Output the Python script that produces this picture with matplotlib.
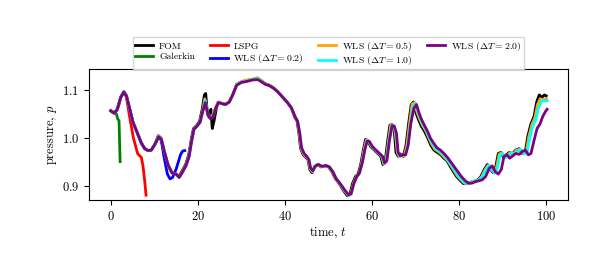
import matplotlib
matplotlib.use("Agg")
import matplotlib.pyplot as plt

plt.rcParams["font.family"] = ["cmr10", "DejaVu Serif"]
plt.rcParams["mathtext.fontset"] = "cm"
plt.rcParams["axes.formatter.use_mathtext"] = True

# FOM reference solution
t_fom = [0, 0.8, 1.5, 2.3, 3.0, 3.6, 4.3, 5.1, 6.0, 7.0, 7.8, 8.6, 9.3, 10.2, 10.9, 11.5,
         12.2, 13.1, 14.0, 15.0, 15.6, 16.3, 17.2, 17.9, 18.5, 19.0, 19.7, 20.4, 21.0, 21.5,
         21.8, 22.2, 22.6, 23.0, 23.3, 23.7, 24.3, 24.8, 25.5, 26.3, 27.2, 28.0, 28.9, 30.0,
         31.2, 32.5, 33.7, 34.5, 35.5, 36.5, 37.5, 38.5, 39.5, 40.5, 41.5, 42.2, 42.8, 43.2,
         43.6, 44.2, 44.8, 45.3, 45.7, 46.2, 46.8, 47.5, 48.3, 49.2, 50.0, 50.8, 51.6, 52.5,
         53.5, 54.3, 54.9, 55.5, 56.2, 56.8, 57.4, 58.0, 58.5, 59.0, 59.7, 60.5, 61.3, 62.0,
         62.5, 63.0, 63.6, 64.1, 64.6, 65.1, 65.5, 66.0, 66.5, 67.2, 67.8, 68.4, 69.0, 69.5,
         70.0, 70.6, 71.3, 72.0, 72.8, 73.5, 74.2, 75.0, 75.8, 76.5, 77.2, 78.0, 78.7, 79.4,
         80.2, 81.0, 81.8, 82.6, 83.4, 84.2, 85.0, 85.8, 86.5, 87.2, 87.8, 88.4, 89.0, 89.6,
         90.2, 90.8, 91.5, 92.3, 93.0, 93.8, 94.5, 95.2, 95.8, 96.5, 97.2, 97.8, 98.4, 99.0,
         99.6, 100.0]
p_fom = [1.057, 1.052, 1.060, 1.085, 1.097, 1.088, 1.062, 1.033, 1.013, 0.990, 0.978, 0.974,
         0.975, 0.988, 1.005, 1.000, 0.975, 0.945, 0.928, 0.925, 0.920, 0.930, 0.945, 0.965,
         0.998, 1.020, 1.026, 1.035, 1.060, 1.090, 1.093, 1.050, 1.043, 1.060, 1.020, 1.035,
         1.065, 1.075, 1.072, 1.070, 1.075, 1.090, 1.112, 1.117, 1.120, 1.122, 1.125, 1.120,
         1.113, 1.110, 1.104, 1.095, 1.085, 1.075, 1.062, 1.045, 1.035, 1.010, 0.978, 0.965,
         0.960, 0.955, 0.935, 0.928, 0.940, 0.945, 0.940, 0.942, 0.940, 0.930, 0.915, 0.905,
         0.890, 0.880, 0.882, 0.905, 0.920, 0.925, 0.945, 0.975, 0.997, 0.995, 0.982, 0.975,
         0.968, 0.962, 0.945, 0.950, 0.995, 1.027, 1.028, 1.015, 0.970, 0.962, 0.967, 0.962,
         0.985, 1.030, 1.070, 1.075, 1.055, 1.040, 1.025, 1.015, 1.000, 0.985, 0.975, 0.970,
         0.965, 0.958, 0.953, 0.940, 0.930, 0.920, 0.912, 0.905, 0.905, 0.908, 0.910, 0.912,
         0.920, 0.935, 0.945, 0.935, 0.928, 0.940, 0.968, 0.970, 0.960, 0.965, 0.970, 0.968,
         0.975, 0.978, 0.968, 0.972, 1.005, 1.030, 1.045, 1.075, 1.090, 1.085, 1.090, 1.088]

# Galerkin ROM
t_gal = [0, 0.5, 1.0, 1.3, 1.6, 1.9, 2.0, 2.15]
p_gal = [1.057, 1.053, 1.054, 1.050, 1.040, 1.036, 1.000, 0.951]

# LSPG ROM
t_lspg = [0, 0.8, 1.5, 2.3, 3.0, 3.6, 4.3, 5.2, 6.2, 7.0, 7.4, 7.8, 8.1]
p_lspg = [1.057, 1.052, 1.060, 1.085, 1.097, 1.085, 1.046, 1.000, 0.967, 0.960, 0.942,
          0.910, 0.881]

# WLS, dT = 0.2
t_w02 = [0, 0.8, 1.5, 2.3, 3.0, 3.6, 4.3, 5.1, 6.0, 7.0, 7.8, 8.6, 9.3, 10.2, 11.0, 11.6,
         12.2, 13.0, 13.6, 14.2, 15.0, 16.0, 16.5, 17.0]
p_w02 = [1.057, 1.052, 1.060, 1.085, 1.096, 1.088, 1.062, 1.033, 1.013, 0.990, 0.978, 0.974,
         0.975, 0.988, 1.003, 0.995, 0.962, 0.925, 0.915, 0.918, 0.935, 0.965, 0.973, 0.974]

# WLS, dT = 0.5
t_w05 = [0, 0.8, 1.5, 2.3, 3.0, 3.6, 4.3, 5.1, 6.0, 7.0, 7.8, 8.6, 9.3, 10.2, 11.0, 11.6,
         12.3, 13.2, 14.1, 15.0, 15.7, 16.4, 17.3, 18.0, 18.6, 19.1, 19.8, 20.5, 21.1, 21.6,
         22.2, 22.8, 23.4, 24.0, 24.6, 25.5, 26.3, 27.2, 28.0, 28.9, 30.0, 31.2, 32.5, 33.7,
         34.5, 35.5, 36.5, 37.5, 38.5, 39.5, 40.5, 41.5, 42.3, 42.9, 43.3, 43.7, 44.3, 44.9,
         45.4, 45.8, 46.3, 46.9, 47.6, 48.4, 49.3, 50.1, 50.9, 51.7, 52.6, 53.6, 54.5, 55.1,
         55.7, 56.4, 57.0, 57.6, 58.2, 58.7, 59.2, 59.9, 60.7, 61.5, 62.2, 62.7, 63.2, 63.8,
         64.3, 64.8, 65.3, 65.8, 66.2, 66.8, 67.4, 68.0, 68.6, 69.2, 69.8, 70.3, 70.9, 71.6,
         72.3, 73.0, 73.7, 74.4, 75.2, 76.0, 76.7, 77.4, 78.2, 78.9, 79.6, 80.4, 81.2, 82.0,
         82.8, 83.6, 84.4, 85.2, 86.0, 86.7, 87.4, 88.0, 88.6, 89.2, 89.8, 90.4, 91.1, 91.8,
         92.5, 93.2, 94.0, 94.7, 95.4, 96.0, 96.7, 97.4, 98.0, 98.6, 99.2, 99.8, 100.1]
p_w05 = [1.057, 1.052, 1.060, 1.085, 1.097, 1.088, 1.062, 1.033, 1.013, 0.990, 0.978, 0.974,
         0.975, 0.988, 1.005, 1.000, 0.973, 0.944, 0.927, 0.925, 0.919, 0.929, 0.944, 0.964,
         0.997, 1.019, 1.026, 1.034, 1.057, 1.082, 1.052, 1.042, 1.048, 1.063, 1.075, 1.073,
         1.071, 1.076, 1.091, 1.112, 1.118, 1.121, 1.123, 1.126, 1.121, 1.114, 1.110, 1.104,
         1.095, 1.085, 1.075, 1.062, 1.045, 1.035, 1.010, 0.978, 0.966, 0.961, 0.955, 0.936,
         0.930, 0.941, 0.945, 0.940, 0.942, 0.940, 0.930, 0.915, 0.905, 0.891, 0.881, 0.883,
         0.905, 0.920, 0.926, 0.947, 0.977, 0.996, 0.994, 0.982, 0.975, 0.968, 0.962, 0.946,
         0.951, 0.995, 1.027, 1.027, 1.013, 0.970, 0.962, 0.966, 0.963, 0.985, 1.030, 1.071,
         1.074, 1.055, 1.040, 1.026, 1.016, 1.001, 0.987, 0.977, 0.972, 0.966, 0.959, 0.953,
         0.941, 0.931, 0.921, 0.913, 0.906, 0.905, 0.908, 0.910, 0.912, 0.920, 0.935, 0.944,
         0.935, 0.928, 0.940, 0.967, 0.969, 0.960, 0.965, 0.970, 0.968, 0.975, 0.977, 0.968,
         0.972, 1.003, 1.028, 1.043, 1.070, 1.082, 1.080, 1.082, 1.081]

# WLS, dT = 1.0
t_w10 = [0, 0.8, 1.5, 2.3, 3.0, 3.6, 4.3, 5.1, 6.0, 7.0, 7.8, 8.6, 9.3, 10.2, 11.0, 11.6,
         12.3, 13.2, 14.1, 15.0, 15.7, 16.4, 17.3, 18.0, 18.6, 19.1, 19.8, 20.5, 21.1, 21.7,
         22.3, 22.9, 23.5, 24.1, 24.7, 25.5, 26.3, 27.2, 28.0, 28.9, 30.0, 31.2, 32.5, 33.7,
         34.5, 35.5, 36.5, 37.5, 38.5, 39.5, 40.5, 41.5, 42.3, 42.9, 43.4, 43.8, 44.4, 45.0,
         45.5, 45.9, 46.4, 47.0, 47.7, 48.5, 49.4, 50.2, 51.0, 51.8, 52.7, 53.7, 54.6, 55.2,
         55.8, 56.5, 57.1, 57.7, 58.3, 58.8, 59.3, 60.0, 60.8, 61.6, 62.3, 62.8, 63.3, 63.9,
         64.5, 65.0, 65.5, 65.9, 66.4, 66.9, 67.6, 68.2, 68.8, 69.4, 70.0, 70.5, 71.1, 71.8,
         72.5, 73.2, 73.9, 74.6, 75.4, 76.2, 76.9, 77.6, 78.4, 79.1, 79.8, 80.6, 81.4, 82.2,
         83.0, 83.8, 84.6, 85.4, 86.2, 86.9, 87.6, 88.2, 88.8, 89.4, 90.0, 90.6, 91.3, 92.0,
         92.7, 93.4, 94.2, 94.9, 95.6, 96.2, 96.9, 97.6, 98.2, 98.8, 99.4, 100.0, 100.2]
p_w10 = [1.057, 1.052, 1.060, 1.085, 1.097, 1.088, 1.062, 1.033, 1.013, 0.990, 0.978, 0.974,
         0.975, 0.988, 1.004, 0.999, 0.972, 0.943, 0.927, 0.925, 0.918, 0.928, 0.943, 0.963,
         0.996, 1.018, 1.025, 1.033, 1.056, 1.078, 1.051, 1.041, 1.046, 1.062, 1.074, 1.072,
         1.070, 1.075, 1.090, 1.111, 1.117, 1.119, 1.122, 1.124, 1.119, 1.113, 1.109, 1.103,
         1.095, 1.085, 1.075, 1.063, 1.045, 1.035, 1.010, 0.979, 0.967, 0.961, 0.955, 0.936,
         0.931, 0.941, 0.945, 0.941, 0.943, 0.940, 0.930, 0.915, 0.905, 0.891, 0.881, 0.883,
         0.905, 0.920, 0.926, 0.948, 0.977, 0.995, 0.993, 0.982, 0.975, 0.968, 0.962, 0.947,
         0.952, 0.995, 1.027, 1.026, 1.011, 0.970, 0.962, 0.966, 0.964, 0.985, 1.030, 1.066,
         1.072, 1.055, 1.040, 1.026, 1.015, 1.000, 0.988, 0.978, 0.973, 0.967, 0.960, 0.951,
         0.941, 0.931, 0.921, 0.913, 0.906, 0.906, 0.909, 0.911, 0.913, 0.920, 0.936, 0.943,
         0.933, 0.927, 0.938, 0.965, 0.968, 0.959, 0.964, 0.969, 0.967, 0.973, 0.976, 0.967,
         0.970, 1.000, 1.025, 1.038, 1.062, 1.076, 1.078, 1.077, 1.078]

# WLS, dT = 2.0
t_w20 = [0, 0.8, 1.5, 2.3, 3.0, 3.6, 4.3, 5.1, 6.0, 7.0, 7.8, 8.6, 9.3, 10.2, 11.0, 11.6,
         12.3, 13.2, 14.1, 15.0, 15.7, 16.4, 17.3, 18.0, 18.6, 19.1, 19.8, 20.5, 21.1, 21.7,
         22.3, 22.9, 23.5, 24.1, 24.7, 25.5, 26.3, 27.2, 28.0, 28.9, 30.0, 31.2, 32.5, 33.7,
         34.5, 35.5, 36.5, 37.5, 38.5, 39.5, 40.5, 41.5, 42.3, 42.9, 43.4, 43.8, 44.4, 45.0,
         45.5, 45.9, 46.4, 47.0, 47.7, 48.5, 49.4, 50.2, 51.0, 51.8, 52.7, 53.7, 54.6, 55.2,
         55.8, 56.5, 57.1, 57.8, 58.4, 58.9, 59.4, 60.1, 60.9, 61.7, 62.4, 62.9, 63.4, 64.0,
         64.6, 65.1, 65.6, 66.0, 66.5, 67.0, 67.7, 68.3, 68.9, 69.6, 70.2, 70.7, 71.3, 72.0,
         72.7, 73.4, 74.1, 74.9, 75.7, 76.5, 77.3, 78.1, 78.9, 79.7, 80.5, 81.3, 82.1, 82.9,
         83.7, 84.5, 85.3, 86.1, 86.9, 87.6, 88.3, 89.0, 89.7, 90.3, 91.0, 91.6, 92.3, 93.0,
         93.8, 94.5, 95.2, 95.9, 96.5, 97.2, 97.9, 98.6, 99.2, 99.8, 100.2]
p_w20 = [1.057, 1.052, 1.060, 1.085, 1.096, 1.088, 1.062, 1.033, 1.013, 0.990, 0.978, 0.974,
         0.975, 0.988, 1.003, 0.998, 0.972, 0.943, 0.927, 0.925, 0.918, 0.928, 0.943, 0.962,
         0.995, 1.018, 1.025, 1.033, 1.055, 1.074, 1.050, 1.040, 1.045, 1.062, 1.074, 1.072,
         1.070, 1.075, 1.090, 1.110, 1.116, 1.118, 1.121, 1.122, 1.118, 1.112, 1.109, 1.103,
         1.095, 1.085, 1.075, 1.063, 1.045, 1.035, 1.010, 0.980, 0.968, 0.962, 0.955, 0.937,
         0.932, 0.942, 0.945, 0.941, 0.943, 0.940, 0.930, 0.915, 0.905, 0.892, 0.882, 0.884,
         0.905, 0.920, 0.927, 0.950, 0.978, 0.994, 0.993, 0.982, 0.975, 0.968, 0.962, 0.948,
         0.953, 0.995, 1.026, 1.025, 1.010, 0.970, 0.963, 0.966, 0.965, 0.985, 1.030, 1.062,
         1.070, 1.055, 1.040, 1.027, 1.015, 1.000, 0.990, 0.980, 0.975, 0.968, 0.960, 0.950,
         0.940, 0.930, 0.920, 0.912, 0.906, 0.906, 0.909, 0.911, 0.913, 0.920, 0.937, 0.942,
         0.930, 0.925, 0.935, 0.962, 0.965, 0.958, 0.963, 0.968, 0.966, 0.972, 0.975, 0.965,
         0.968, 0.995, 1.020, 1.030, 1.045, 1.055, 1.060]

series = [
    (t_fom, p_fom, "black", "FOM"),
    (t_gal, p_gal, "green", "Galerkin"),
    (t_lspg, p_lspg, "red", "LSPG"),
    (t_w02, p_w02, "blue", r"WLS ($\Delta T = 0.2$)"),
    (t_w05, p_w05, "orange", r"WLS ($\Delta T = 0.5$)"),
    (t_w10, p_w10, "cyan", r"WLS ($\Delta T = 1.0$)"),
    (t_w20, p_w20, "purple", r"WLS ($\Delta T = 2.0$)"),
]

fig = plt.figure(figsize=(5.98, 2.66), dpi=100)
ax = fig.add_axes([89 / 598, 1 - 200 / 266, 479 / 598, 131 / 266])

for t, p, c, lab in series:
    ax.plot(t, p, color=c, lw=2, label=lab)

ax.set_xlim(-5, 105)
ax.set_ylim(0.871, 1.144)
ax.set_xticks([0, 20, 40, 60, 80, 100])
ax.set_yticks([0.9, 1.0, 1.1])
ax.tick_params(labelsize=9)
ax.set_xlabel(r"time, $t$", fontsize=9, labelpad=2)
ax.set_ylabel(r"pressure, $p$", fontsize=9, labelpad=2)

fig.legend(loc="center", bbox_to_anchor=(328.5 / 598, 1 - 53.5 / 266), ncol=4,
           fontsize=7, frameon=True, fancybox=False, edgecolor="#cccccc",
           handlelength=1.85, handletextpad=0.6, columnspacing=1.5,
           borderpad=0.25, labelspacing=0.15, borderaxespad=0)

fig.savefig("out.png", dpi=100)
